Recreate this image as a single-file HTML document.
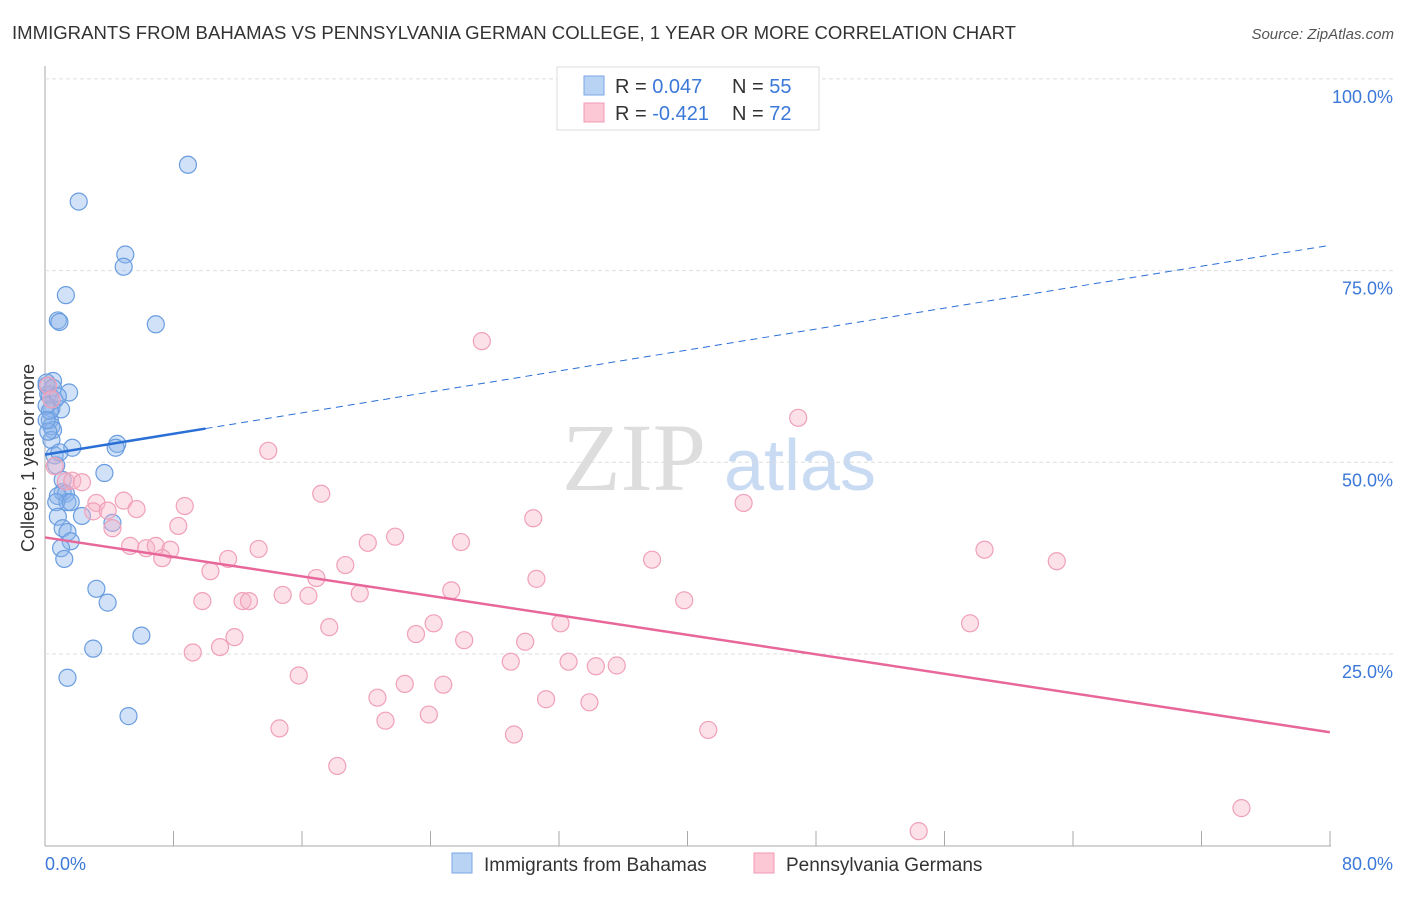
<!DOCTYPE html>
<html><head><meta charset="utf-8"><style>
body{margin:0;background:#fff;font-family:"Liberation Sans",sans-serif}
svg text{font-family:"Liberation Sans",sans-serif}
</style></head><body>
<svg id="c" width="1406" height="892">
<text x="12" y="39" font-size="18" fill="#333" textLength="1004" lengthAdjust="spacingAndGlyphs">IMMIGRANTS FROM BAHAMAS VS PENNSYLVANIA GERMAN COLLEGE, 1 YEAR OR MORE CORRELATION CHART</text>
<text x="1394" y="39" font-size="15" fill="#555" text-anchor="end" font-style="italic">Source: ZipAtlas.com</text>
<text x="634" y="490" font-size="96" fill="#ddd" style="font-family:'Liberation Serif',serif" text-anchor="middle">ZIP</text>
<text x="800" y="490" font-size="72" fill="#c9daf3" text-anchor="middle">atlas</text>
<text transform="translate(34,458) rotate(-90)" font-size="18" fill="#333" text-anchor="middle">College, 1 year or more</text>
<g id="grid"></g><g id="marks"></g>
<g>
<rect x="557" y="67" width="262" height="63" fill="#fff" stroke="#ddd"/>
<rect x="584" y="76" width="20" height="19" fill="#b9d3f5" stroke="#7aa6e6"/>
<rect x="584" y="103" width="20" height="19" fill="#fcc8d6" stroke="#f09ab4"/>
<text x="615" y="93" font-size="20" fill="#333">R = <tspan fill="#3b78d8"> 0.047</tspan><tspan x="732">N = </tspan><tspan fill="#3b78d8">55</tspan></text>
<text x="615" y="120" font-size="20" fill="#333">R = <tspan fill="#3b78d8">-0.421</tspan><tspan x="732">N = </tspan><tspan fill="#3b78d8">72</tspan></text>
</g>
<g>
<rect x="452" y="853" width="20" height="20" fill="#b9d3f5" stroke="#7aa6e6"/>
<text x="484" y="871" font-size="19" fill="#333">Immigrants from Bahamas</text>
<rect x="754" y="853" width="20" height="20" fill="#fcc8d6" stroke="#f09ab4"/>
<text x="786" y="871" font-size="19" fill="#333">Pennsylvania Germans</text>
</g>
</svg>
<script>
const yTicks=[25,50,75,100];
const xTickLabels=["0.0%","80.0%"];
const blueX=[8.9,2.1,5.0,4.9,1.3,0.8,0.9,6.9,0.5,1.5,0.1,0.3,0.6,0.4,1.0,0.3,0.4,0.5,0.4,4.5,4.4,1.7,0.6,0.7,3.7,1.1,1.1,1.3,0.8,1.4,0.7,1.6,2.3,0.8,4.2,1.1,1.4,1.6,1.0,1.2,3.2,3.9,6.0,3.0,1.4,5.2,0.2,0.3,0.1,0.5,0.8,0.1,0.2,0.9,0.1];
const blueY=[88.8,84.0,77.1,75.5,71.8,68.5,68.3,68.0,60.6,59.1,60.0,58.7,58.1,57.0,56.9,55.5,54.7,54.2,52.9,52.4,51.9,51.9,50.9,49.6,48.6,47.7,46.1,45.9,45.6,44.8,44.8,44.8,43.0,42.9,42.1,41.4,40.9,39.7,38.8,37.4,33.5,31.7,27.4,25.7,21.9,16.9,58.9,56.7,60.4,59.7,58.6,57.4,54.0,51.3,55.5];
const pinkX=[27.2,46.9,13.9,0.2,0.4,0.6,1.3,1.7,2.3,17.2,3.2,4.9,8.7,5.7,3.0,3.9,43.5,30.4,4.2,8.3,25.9,21.8,20.1,5.3,6.3,6.9,7.8,7.3,13.3,11.4,37.8,58.5,63.0,10.3,18.7,16.9,30.6,25.3,19.6,14.8,16.4,9.8,12.3,12.7,39.8,32.1,57.6,17.7,24.2,23.1,26.1,11.8,29.9,9.2,10.9,29.0,32.6,34.3,35.6,15.8,22.4,24.8,20.7,31.2,33.9,23.9,21.2,14.6,29.2,41.3,18.2,54.4,74.5];
const pinkY=[65.8,55.8,51.5,60.0,58.2,49.5,47.5,47.6,47.4,45.9,44.7,45.0,44.3,43.9,43.6,43.7,44.7,42.7,41.4,41.7,39.6,40.3,39.5,39.1,38.8,39.1,38.6,37.5,38.7,37.4,37.3,38.6,37.1,35.8,36.6,34.9,34.8,33.3,32.9,32.7,32.6,31.9,31.9,31.9,32.0,29.0,29.0,28.5,29.0,27.6,26.8,27.2,26.6,25.2,25.9,24.0,24.0,23.4,23.5,22.2,21.1,21.0,19.3,19.1,18.7,17.1,16.3,15.3,14.5,15.1,10.4,1.9,4.9];
const blueTrend=[0.0,51.0,10.0,54.4,80.0,78.3];
const pinkTrend=[0.0,40.2,80.0,14.8];
const NS="http://www.w3.org/2000/svg";
const X=v=>45+v*16.06, Y=v=>845.7-v*7.668;
function mk(t,a,p){const e=document.createElementNS(NS,t);for(const k in a)e.setAttribute(k,a[k]);p.appendChild(e);return e;}
const g=document.getElementById('grid'),m=document.getElementById('marks');
let ax=mk('line',{x1:45,y1:66,x2:45,y2:846,stroke:'#aaa'},g);


let bx=mk('line',{x1:45,y1:846,x2:1331,y2:846,stroke:'#aaa'},g);


for(let i=1;i<=10;i++){const t=mk('line',{x1:45+i*128.5,y1:831,x2:45+i*128.5,y2:846,stroke:'#aaa'},g);

}
yTicks.forEach(v=>{const l=mk('line',{x1:45,x2:1393,y1:Y(v),y2:Y(v),stroke:'#ddd','stroke-dasharray':'4,3'},g);


const t=mk('text',{x:1393,y:Y(v)+24,'font-size':18,fill:'#3b78d8','text-anchor':'end'},g);t.textContent=v.toFixed(1)+'%';

});
[[45,'start',0],[1393,'end',1]].forEach(([x,a,i])=>{const t=mk('text',{x:x,y:870,'font-size':18,fill:'#3b78d8','text-anchor':a},g);t.textContent=xTickLabels[i];

});
blueX.forEach((v,i)=>{const c=mk('circle',{cx:X(v),cy:Y(blueY[i]),r:8.5,fill:'rgba(140,180,235,0.4)',stroke:'#6a9de0','stroke-width':1.2},m);

});
pinkX.forEach((v,i)=>{const c=mk('circle',{cx:X(v),cy:Y(pinkY[i]),r:8.5,fill:'rgba(248,180,200,0.4)',stroke:'#f0a0b8','stroke-width':1.2},m);

});
let l1=mk('line',{x1:X(blueTrend[0]),y1:Y(blueTrend[1]),x2:X(blueTrend[2]),y2:Y(blueTrend[3]),stroke:'#2a6fd6','stroke-width':2.5},m);


let l2=mk('line',{x1:X(blueTrend[2]),y1:Y(blueTrend[3]),x2:X(blueTrend[4]),y2:Y(blueTrend[5]),stroke:'#2a6fd6','stroke-width':1,'stroke-dasharray':'7,5'},m);


let l3=mk('line',{x1:X(pinkTrend[0]),y1:Y(pinkTrend[1]),x2:X(pinkTrend[2]),y2:Y(pinkTrend[3]),stroke:'#e8679a','stroke-width':2.5},m);


</script>
</body></html>
